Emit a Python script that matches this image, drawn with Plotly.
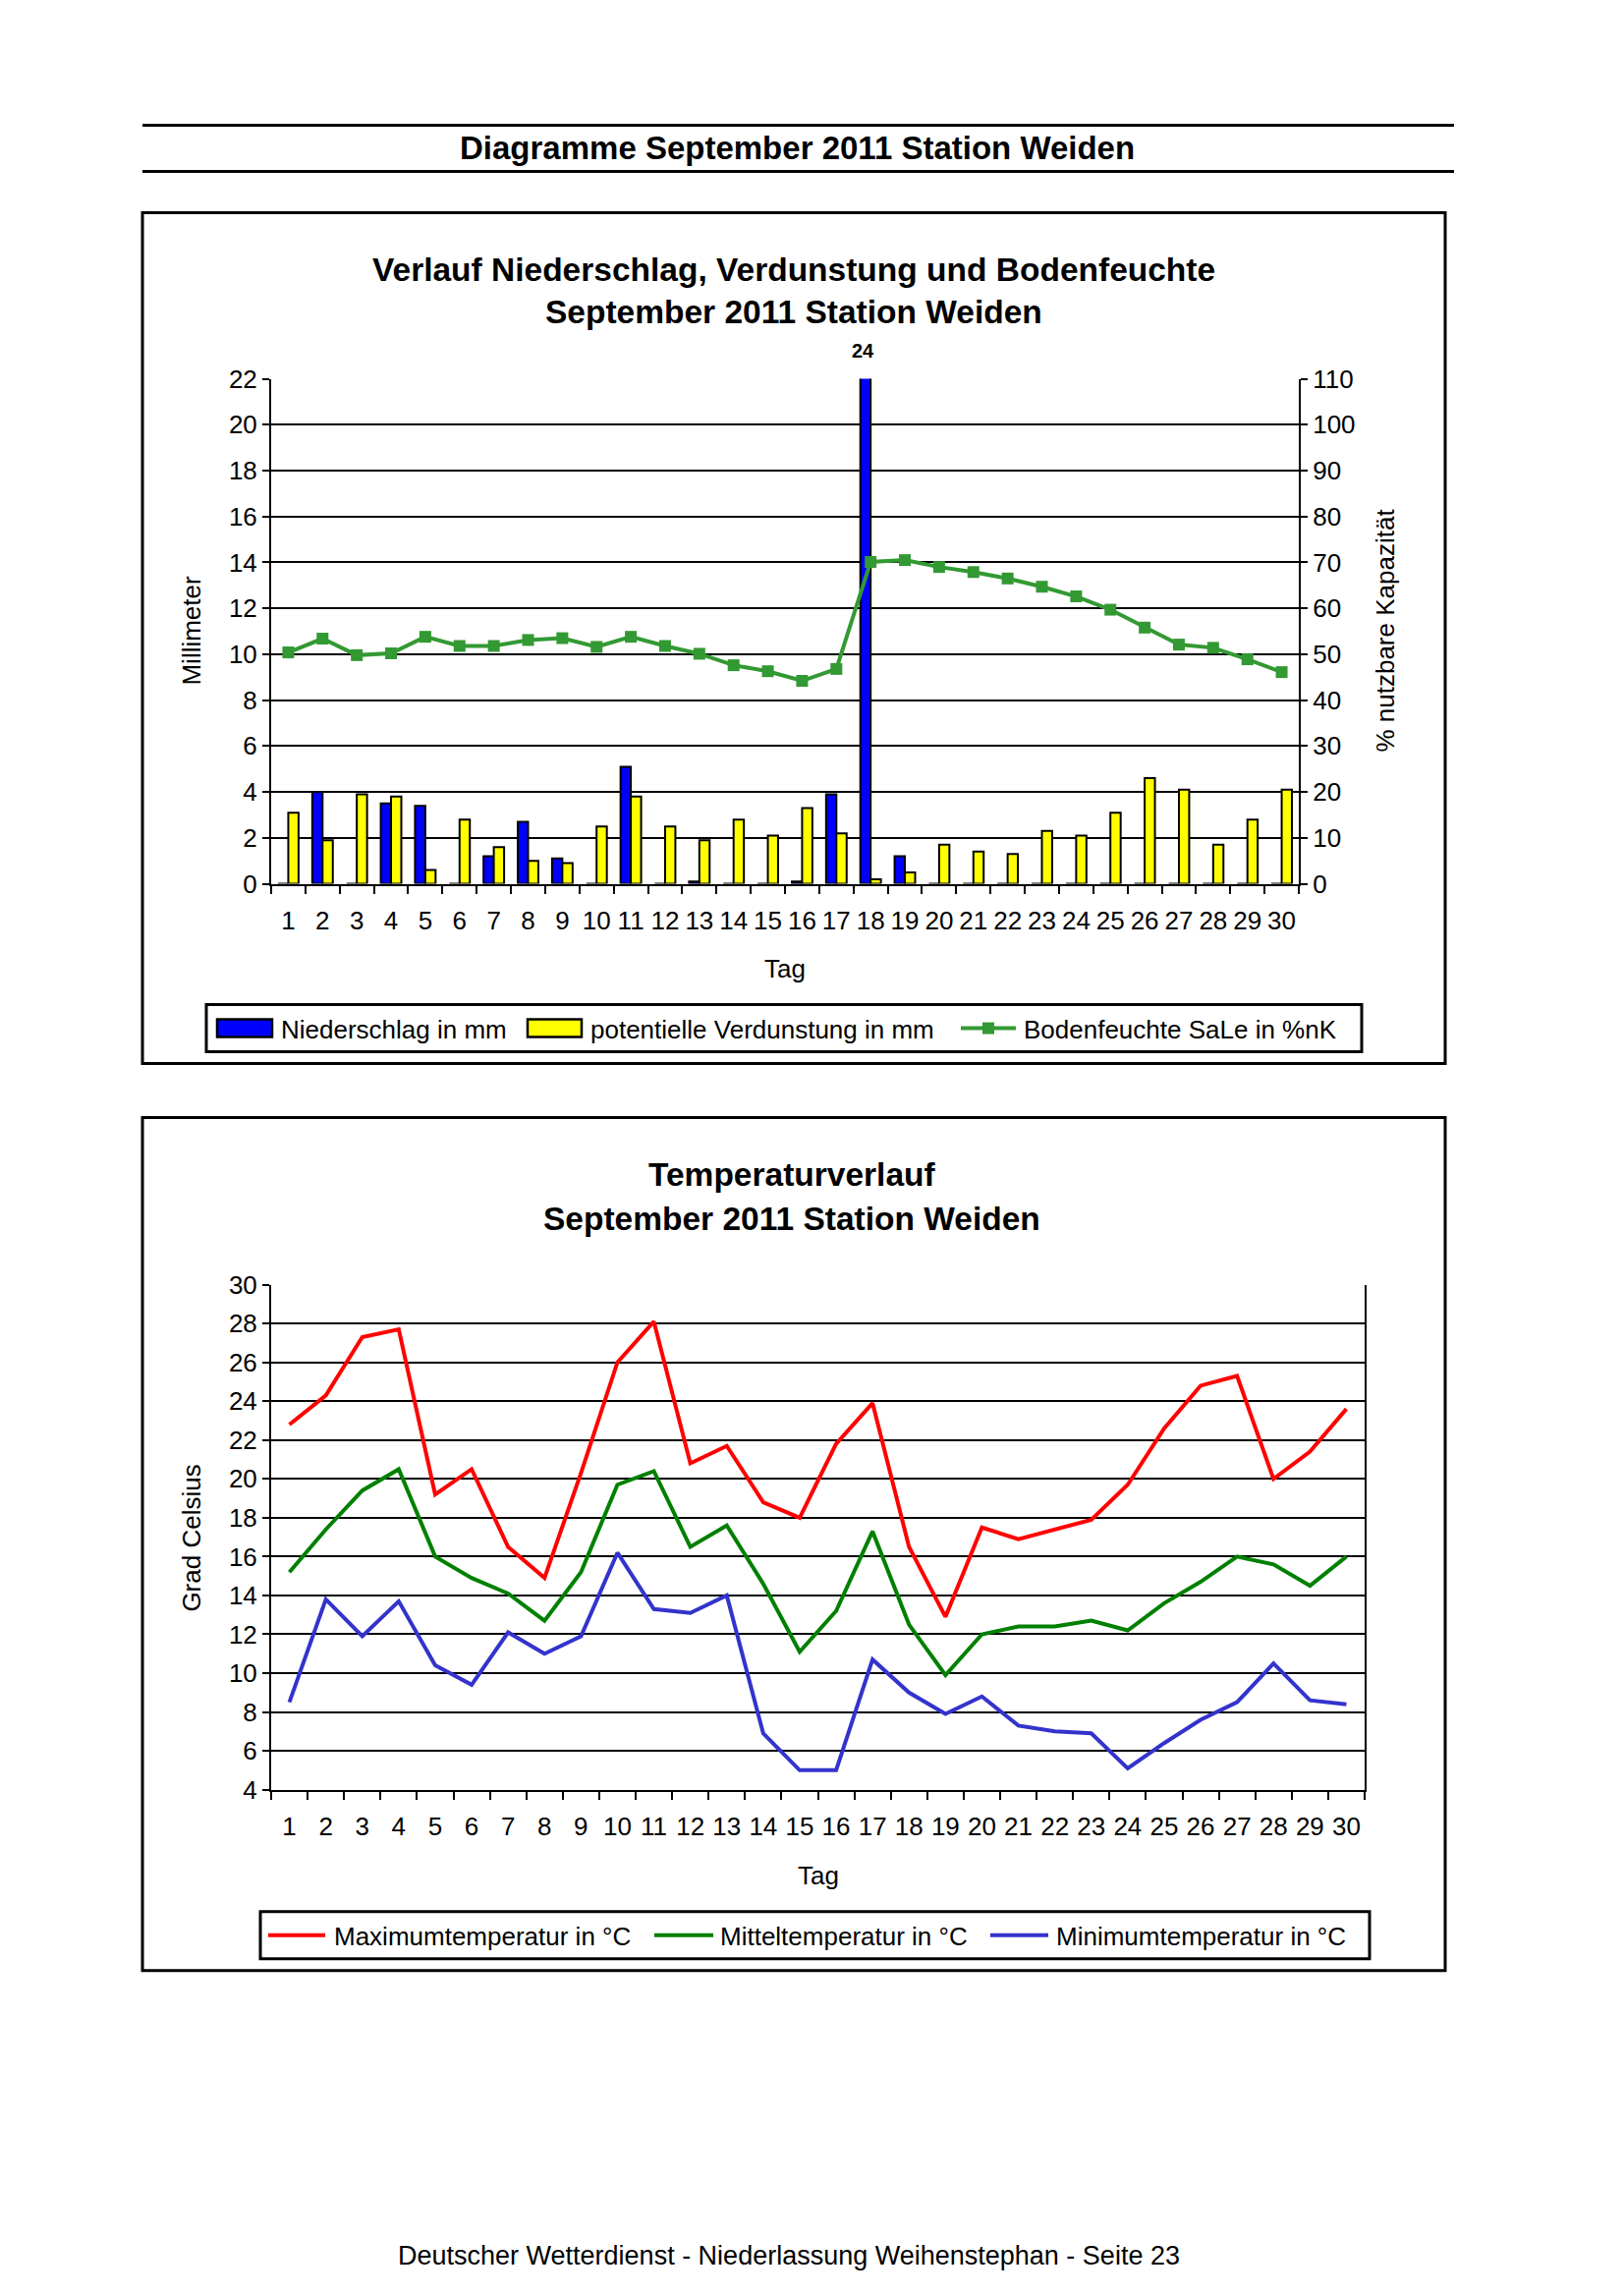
import plotly.graph_objects as go

PAGE_W, PAGE_H = 1653, 2337
BODY_MARGIN = 8  # default browser body margin around the figure
W, H = PAGE_W - 2 * BODY_MARGIN, PAGE_H - 2 * BODY_MARGIN
# observed capture transform (page -> photo): photo = A + S * page
AX, SX = 0.0, 1.0
AY, SY = 14.6, 0.987

DAYS = [str(d) for d in range(1, 31)]
NIEDERSCHLAG = [0, 4.0, 0, 3.5, 3.4, 0, 1.2, 2.7, 1.1, 0, 5.1, 0, 0.1, 0, 0, 0.1, 3.9, 24.0, 1.2, 0,
                0, 0, 0, 0, 0, 0, 0, 0, 0, 0]
VERDUNSTUNG = [3.1, 1.9, 3.9, 3.8, 0.6, 2.8, 1.6, 1.0, 0.9, 2.5, 3.8, 2.5, 1.9, 2.8, 2.1, 3.3, 2.2, 0.2, 0.5, 1.7,
               1.4, 1.3, 2.3, 2.1, 3.1, 4.6, 4.1, 1.7, 2.8, 4.1]
BODENFEUCHTE = [50.4, 53.4, 49.8, 50.2, 53.8, 51.8, 51.8, 53.1, 53.5, 51.6, 53.8, 51.8, 50.1, 47.6, 46.3, 44.2,
                46.8, 70.1, 70.5, 69.0, 67.9, 66.5, 64.7, 62.6, 59.7, 55.8, 52.1, 51.4, 48.9, 46.1]
TMAX = [22.8, 24.3, 27.3, 27.7, 19.2, 20.5, 16.5, 14.9, 20.3, 26.0, 28.1, 20.8, 21.7, 18.8, 18.0, 21.8, 23.9,
        16.5, 12.9, 17.5, 16.9, 17.4, 17.9, 19.7, 22.6, 24.8, 25.3, 20.0, 21.4, 23.6]
TMITTEL = [15.2, 17.4, 19.4, 20.5, 16.0, 14.9, 14.1, 12.7, 15.2, 19.7, 20.4, 16.5, 17.6, 14.6, 11.1, 13.2, 17.3,
           12.5, 9.9, 12.0, 12.4, 12.4, 12.7, 12.2, 13.6, 14.7, 16.0, 15.6, 14.5, 16.0]
TMIN = [8.5, 13.8, 11.9, 13.7, 10.4, 9.4, 12.1, 11.0, 11.9, 16.2, 13.3, 13.1, 14.0, 6.9, 5.0, 5.0, 10.7, 9.0,
        7.9, 8.8, 7.3, 7.0, 6.9, 5.1, 6.4, 7.6, 8.5, 10.5, 8.6, 8.4]

NAMES_1 = ["Niederschlag in mm", "potentielle Verdunstung in mm", "Bodenfeuchte SaLe in %nK"]
NAMES_2 = ["Maximumtemperatur in °C", "Mitteltemperatur in °C", "Minimumtemperatur in °C"]

FONT = "Liberation Sans, Arial, sans-serif"
BLUE, YELLOW, SOIL = "#0000FF", "#FFFF00", "#339933"
RED, GREEN, TBLUE = "#FF0000", "#008000", "#3333CC"


def px(x):
    page = (x - AX) / SX
    return (page - BODY_MARGIN) / W


def py(y):
    page = (y - AY) / SY
    return 1 - (page - BODY_MARGIN) / H


fig = go.Figure()

# ---- Chart 1 ----
fig.add_trace(go.Bar(x=DAYS, y=NIEDERSCHLAG, name=NAMES_1[0], marker=dict(color=BLUE, line=dict(color="black", width=2)),
                     xaxis="x", yaxis="y"))
fig.add_trace(go.Bar(x=DAYS, y=VERDUNSTUNG, name=NAMES_1[1], marker=dict(color=YELLOW, line=dict(color="black", width=2)),
                     xaxis="x", yaxis="y"))
fig.add_trace(go.Scatter(x=DAYS, y=BODENFEUCHTE, name=NAMES_1[2], mode="lines+markers",
                         line=dict(color=SOIL, width=4), marker=dict(symbol="square", size=12, color=SOIL),
                         xaxis="x", yaxis="y2"))

# ---- Chart 2 ----
for vals, name, col in [(TMAX, NAMES_2[0], RED), (TMITTEL, NAMES_2[1], GREEN), (TMIN, NAMES_2[2], TBLUE)]:
    fig.add_trace(go.Scatter(x=DAYS, y=vals, name=name, mode="lines", line=dict(color=col, width=4),
                             xaxis="x2", yaxis="y3"))

tickfont = dict(family=FONT, size=26, color="black")
axcommon = dict(showline=True, linecolor="black", linewidth=2, ticks="outside", tickcolor="black",
                tickwidth=2, tickfont=tickfont, zeroline=False)
cat_range = [-0.5, len(DAYS) - 0.5]

fig.update_layout(
    width=W, height=H, autosize=False,
    margin=dict(l=0, r=0, t=0, b=0),
    paper_bgcolor="white", plot_bgcolor="white",
    showlegend=False,
    barmode="group", bargap=0.4, bargroupgap=0,
    font=dict(family=FONT, color="black"),
    xaxis=dict(domain=[px(276), px(1322)], anchor="y", type="category", range=cat_range, tickson="boundaries",
               tickangle=0, ticklen=8, showgrid=False, ticklabelstandoff=13, **axcommon),
    yaxis=dict(domain=[py(899), py(385)], anchor="x", range=[0, 22], dtick=2, tick0=0, ticklen=7,
               showgrid=True, gridcolor="black", gridwidth=2, **axcommon),
    yaxis2=dict(overlaying="y", side="right", anchor="x", range=[0, 110], dtick=10, tick0=0, ticklen=7,
                showgrid=False, **axcommon),
    xaxis2=dict(domain=[px(276), px(1389)], anchor="y3", type="category", range=cat_range, tickson="boundaries",
                tickangle=0, ticklen=8, showgrid=False, ticklabelstandoff=13, **axcommon),
    yaxis3=dict(domain=[py(1821), py(1307)], anchor="x2", range=[4, 30], dtick=2, tick0=4, ticklen=7,
                showgrid=True, gridcolor="black", gridwidth=2, mirror=True, **axcommon),
)

shapes = []
# header rules
for yy in (127, 174):
    shapes.append(dict(type="line", xref="paper", yref="paper", x0=px(145), x1=px(1480), y0=py(yy), y1=py(yy),
                       line=dict(color="black", width=3)))
# chart frames
for (y0, y1) in [(216, 1082), (1137, 2005)]:
    shapes.append(dict(type="rect", xref="paper", yref="paper", x0=px(145), x1=px(1471), y0=py(y0), y1=py(y1),
                       line=dict(color="black", width=3)))
# legend frames
for (x0, x1, y0, y1) in [(210, 1386, 1022, 1070), (265, 1394, 1945, 1993)]:
    shapes.append(dict(type="rect", xref="paper", yref="paper", x0=px(x0), x1=px(x1), y0=py(y0), y1=py(y1),
                       line=dict(color="black", width=3), fillcolor="white"))
# legend 1 swatches
for (x0, x1, col) in [(221, 277, BLUE), (537, 592, YELLOW)]:
    shapes.append(dict(type="rect", xref="paper", yref="paper", x0=px(x0), x1=px(x1), y0=py(1037), y1=py(1055),
                       line=dict(color="black", width=2.5), fillcolor=col))
shapes.append(dict(type="line", xref="paper", yref="paper", x0=px(978), x1=px(1034), y0=py(1046), y1=py(1046),
                   line=dict(color=SOIL, width=4)))
shapes.append(dict(type="rect", xref="paper", yref="paper", x0=px(1000), x1=px(1012), y0=py(1040), y1=py(1052),
                   line=dict(color=SOIL, width=0), fillcolor=SOIL))
# legend 2 line swatches
for (x0, x1, col) in [(273, 331, RED), (666, 726, GREEN), (1008, 1067, TBLUE)]:
    shapes.append(dict(type="line", xref="paper", yref="paper", x0=px(x0), x1=px(x1), y0=py(1969), y1=py(1969),
                       line=dict(color=col, width=4)))

ann = []


def text(x, y, s, size, bold=False, xanchor="center", angle=0):
    ann.append(dict(xref="paper", yref="paper", x=px(x), y=py(y), text=("<b>%s</b>" % s) if bold else s,
                    showarrow=False, xanchor=xanchor, yanchor="middle", textangle=angle,
                    font=dict(family=FONT, size=size, color="black")))


text(811, 150, "Diagramme September 2011 Station Weiden", 33, bold=True)
text(808, 274, "Verlauf Niederschlag, Verdunstung und Bodenfeuchte", 33.5, bold=True)
text(808, 317, "September 2011 Station Weiden", 33.5, bold=True)
text(806, 1195, "Temperaturverlauf", 33.5, bold=True)
text(806, 1240, "September 2011 Station Weiden", 33.5, bold=True)
text(799, 985, "Tag", 26)
text(833, 1908, "Tag", 26)
text(195, 641, "Millimeter", 26, angle=-90)
text(1410, 641, "% nutzbare Kapazität", 26, angle=-90)
text(195, 1565, "Grad Celsius", 26, angle=-90)
text(803, 2295, "Deutscher Wetterdienst - Niederlassung Weihenstephan - Seite 23", 27)
# legend texts
text(284, 1047, NAMES_1[0], 26, xanchor="left")
text(599, 1047, NAMES_1[1], 26, xanchor="left")
text(1040, 1047, NAMES_1[2], 26, xanchor="left")
text(338, 1970, NAMES_2[0], 26, xanchor="left")
text(731, 1970, NAMES_2[1], 26, xanchor="left")
text(1073, 1970, NAMES_2[2], 26, xanchor="left")

# label for clipped precipitation bar (category index of the maximum)
imax = max(range(len(NIEDERSCHLAG)), key=lambda i: NIEDERSCHLAG[i])
ann.append(dict(xref="x", yref="paper", x=imax, y=py(356), text="<b>%g</b>" % NIEDERSCHLAG[imax],
                showarrow=False, xanchor="center", yanchor="middle", xshift=-8,
                font=dict(family=FONT, size=20, color="black")))

fig.update_layout(shapes=shapes, annotations=ann)
fig.write_html("out.html", config={"displayModeBar": False})
